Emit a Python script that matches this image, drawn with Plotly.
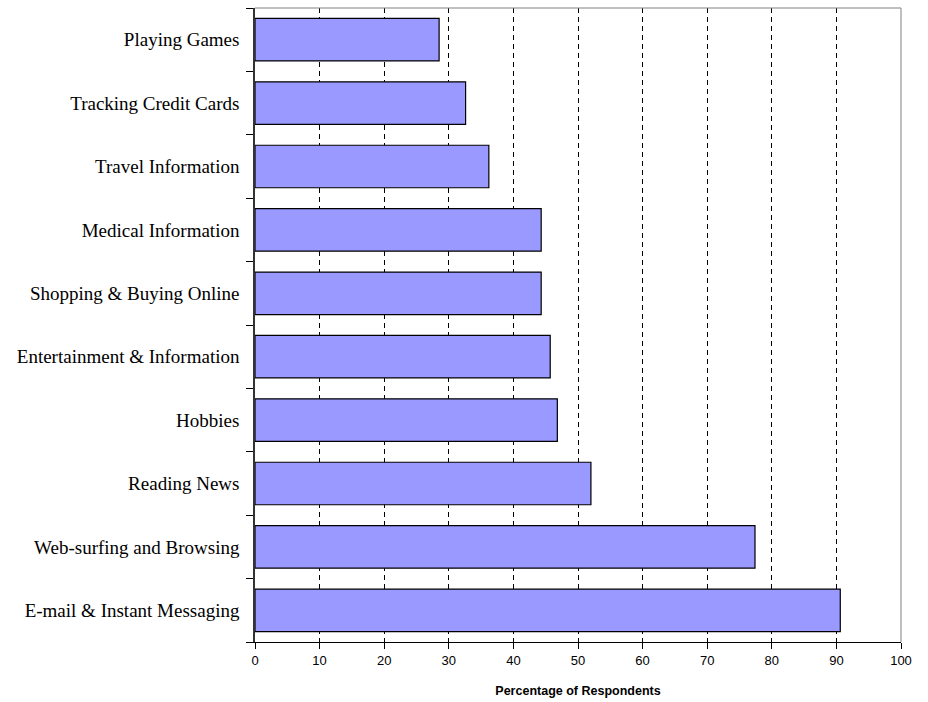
import plotly.graph_objects as go

categories = [
    "E-mail & Instant Messaging",
    "Web-surfing and Browsing",
    "Reading News",
    "Hobbies",
    "Entertainment & Information",
    "Shopping & Buying Online",
    "Medical Information",
    "Travel Information",
    "Tracking Credit Cards",
    "Playing Games",
]
values = [90.6, 77.4, 52.0, 46.8, 45.7, 44.3, 44.3, 36.2, 32.6, 28.5]
x_ticks = [0, 10, 20, 30, 40, 50, 60, 70, 80, 90, 100]

fig = go.Figure(
    go.Bar(
        x=values,
        y=categories,
        orientation="h",
        marker=dict(color="#9999FF", line=dict(color="#000000", width=1.2)),
    )
)

fig.update_layout(
    width=928,
    height=702,
    margin=dict(l=255, r=27, t=8, b=60),
    plot_bgcolor="white",
    paper_bgcolor="white",
    bargap=0.33,
    showlegend=False,
    shapes=[
        dict(type="line", xref="paper", yref="paper", x0=0, x1=1, y0=1, y1=1,
             line=dict(color="#808080", width=1)),
        dict(type="line", xref="paper", yref="paper", x0=1, x1=1, y0=0, y1=1,
             line=dict(color="#808080", width=1)),
    ],
)

fig.update_xaxes(
    range=[0, 100],
    tickvals=x_ticks,
    ticktext=[str(v) for v in x_ticks],
    showgrid=True,
    gridcolor="#000000",
    gridwidth=1,
    griddash="5px,4px",
    showline=True,
    linecolor="#000000",
    linewidth=1,
    ticks="outside",
    ticklen=6,
    tickcolor="#000000",
    zeroline=False,
    tickfont=dict(family="Liberation Sans, Arial", size=13, color="#000000"),
    title=dict(text="<b>Percentage of Respondents</b>",
               font=dict(family="Liberation Sans, Arial", size=12.5, color="#000000"),
               standoff=19),
)

fig.update_yaxes(
    categoryorder="array",
    categoryarray=categories,
    showline=True,
    linecolor="#333333",
    linewidth=1.5,
    ticks="outside",
    tickson="boundaries",
    ticklen=7,
    tickcolor="#000000",
    ticklabelstandoff=10,
    showgrid=False,
    tickfont=dict(family="Liberation Serif, Times New Roman", size=19, color="#000000"),
)

fig.write_html("out.html")
